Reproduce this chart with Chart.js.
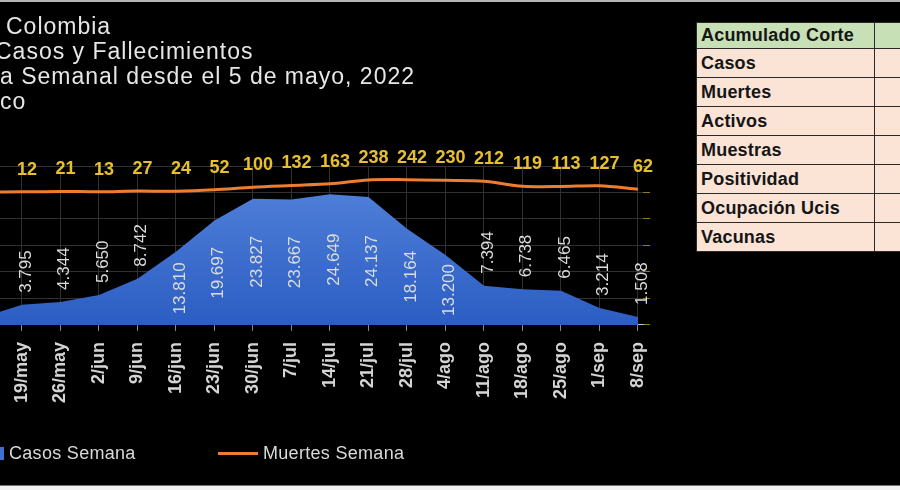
<!DOCTYPE html>
<html>
<head>
<meta charset="utf-8">
<script src="https://cdn.jsdelivr.net/npm/chart.js@4.4.1/dist/chart.umd.min.js"></script>
<style>
  html, body { margin: 0; padding: 0; background: #000; }
  #wrap { position: relative; width: 900px; height: 490px; overflow: hidden; background: #000;
          font-family: "Liberation Sans", Arial, sans-serif; }
  #chart { position: absolute; left: 0; top: 0; }
  .titulo { position: absolute; color: #e6e6e6; font-size: 23px; letter-spacing: 1px; white-space: nowrap; line-height: 25px; }
  #leyenda { position: absolute; left: -8px; top: 443px; display: flex; color: #d9d9d9; font-size: 18px; letter-spacing: 0.3px; }
  #leyenda .item { display: flex; align-items: center; }
  #leyenda .item:first-child { width: 226px; }
  #leyenda .muestra { margin-right: 5px; }
  #tabla { position: absolute; left: 696px; top: 22px; border-collapse: collapse; table-layout: fixed; width: 230px; }
  #tabla td { border: 1.5px solid #2a2a2a; background: #fbe3d5; color: #151515; font-weight: bold;
              font-size: 18px; letter-spacing: 0.2px; padding: 0 4px; height: 28px; white-space: nowrap; }
  #tabla tr:first-child td { background: #c7e0b5; height: 25px; }
  #tabla td:first-child { width: 169px; }
  #tabla td:last-child { width: 45px; }
  .marco-sup { position: absolute; left: 0; top: 0; width: 900px; height: 2px; background: #b5b5b5; }
  .marco-inf { position: absolute; left: 0; top: 485px; width: 900px; height: 5px; background: #f2f2f2; border-top: 1px solid #777; }
</style>
</head>
<body>
<div id="wrap">
  <canvas id="chart" width="690" height="490"></canvas>
  <div class="titulo" style="left:6px; top:14px;">Colombia</div>
  <div class="titulo" style="left:-5px; top:39px;">Casos y Fallecimientos</div>
  <div class="titulo" style="left:0px; top:64px;">a Semanal desde el 5 de mayo, 2022</div>
  <div class="titulo" style="left:0px; top:89px;">co</div>
  <div id="leyenda"></div>
  <table id="tabla"></table>
  <div class="marco-sup"></div>
  <div class="marco-inf"></div>
</div>
<script>
// semanas (la primera queda fuera del recorte de la imagen)
const semanas = ['12/may', '19/may', '26/may', '2/jun', '9/jun', '16/jun', '23/jun', '30/jun', '7/jul',
                 '14/jul', '21/jul', '28/jul', '4/ago', '11/ago', '18/ago', '25/ago', '1/sep', '8/sep'];
const casosSemana = [1500, 3795, 4344, 5650, 8742, 13810, 19697, 23827, 23667,
                     24649, 24137, 18164, 13200, 7394, 6738, 6465, 3214, 1508];
const muertesSemana = [10, 12, 21, 13, 27, 24, 52, 100, 132,
                       163, 238, 242, 230, 212, 119, 113, 127, 62];
const filasTabla = ['Acumulado Corte', 'Casos', 'Muertes', 'Activos', 'Muestras', 'Positividad', 'Ocupación Ucis', 'Vacunas'];

const fuente = '"Liberation Sans", Arial, sans-serif';

function miles(v) {
    return String(v).replace(/\B(?=(\d{3})+(?!\d))/g, '.');
}

// etiquetas de datos (muertes arriba, casos rotados)
const etiquetas = {
    id: 'etiquetas',
    afterDatasetsDraw(chart) {
        const { ctx, chartArea } = chart;
        ctx.save();
        ctx.textAlign = 'center';
        ctx.textBaseline = 'middle';

        ctx.font = 'bold 18px ' + fuente;
        ctx.fillStyle = '#e8c02e';
        chart.getDatasetMeta(1).data.forEach((pt, i) => {
            if (pt.x < chartArea.left || pt.x > chartArea.right) return;
            ctx.fillText(String(muertesSemana[i]), pt.x + 5, pt.y - 22);
        });

        ctx.font = '17px ' + fuente;
        ctx.fillStyle = '#dcdcdc';
        chart.getDatasetMeta(0).data.forEach((pt, i) => {
            if (pt.x < chartArea.left || pt.x > chartArea.right) return;
            const txt = miles(casosSemana[i]);
            const mitad = ctx.measureText(txt).width / 2;
            const alto = chartArea.bottom - pt.y;
            const cy = alto > 60 ? (pt.y + chartArea.bottom) / 2 : pt.y - 12 - mitad;
            ctx.save();
            ctx.translate(pt.x + 4, cy);
            ctx.rotate(-Math.PI / 2);
            ctx.fillText(txt, 0, 0);
            ctx.restore();
        });
        ctx.restore();
    }
};

const chart = new Chart(document.getElementById('chart'), {
    type: 'line',
    data: {
        datasets: [{
            label: 'Casos Semana',
            data: casosSemana.map((v, i) => ({ x: i, y: v })),
            yAxisID: 'y',
            fill: 'origin',
            borderWidth: 0,
            pointRadius: 0,
            tension: 0,
            swatch: 'square',
            borderColor: '#3f70d2',
            backgroundColor: (c) => {
                const area = c.chart.chartArea;
                if (!area) return '#3f70d2';
                const g = c.chart.ctx.createLinearGradient(0, area.top, 0, area.bottom);
                g.addColorStop(0, '#5585dc');
                g.addColorStop(1, '#2b5dc3');
                return g;
            },
            order: 2
        }, {
            label: 'Muertes Semana',
            data: muertesSemana.map((v, i) => ({ x: i, y: v })),
            yAxisID: 'y1',
            borderColor: '#ed7d31',
            backgroundColor: '#ed7d31',
            borderWidth: 3,
            pointRadius: 0,
            tension: 0.3,
            swatch: 'line',
            order: 1
        }]
    },
    options: {
        responsive: false,
        animation: false,
        layout: { padding: { top: 166, right: 40, bottom: 76, left: 0 } },
        plugins: { legend: { display: false }, tooltip: { enabled: false }, title: { display: false } },
        scales: {
            x: {
                type: 'linear',
                min: 0.43,
                max: 17.13,
                // una marca por semana, solo las que caen dentro del eje
                afterBuildTicks: axis => {
                    axis.ticks = semanas.map((s, i) => ({ value: i }))
                        .filter(t => t.value >= axis.min && t.value <= axis.max);
                },
                ticks: {
                    autoSkip: false,
                    maxRotation: 90,
                    minRotation: 90,
                    padding: 11,
                    color: '#d4d4d4',
                    font: { family: fuente, size: 18, weight: 'bold' },
                    callback: v => semanas[v]
                },
                grid: { color: '#303030', tickColor: '#8a8a8a', tickLength: 6 },
                border: { display: true, color: '#c6c6c6', width: 1 }
            },
            y: {
                min: 0,
                max: 30000,
                ticks: { display: false, stepSize: 5000 },
                grid: { color: '#303030', drawTicks: false },
                border: { display: false }
            },
            y1: {
                position: 'right',
                min: -2500,
                max: 500,
                ticks: { display: false, stepSize: 500 },
                grid: { drawOnChartArea: false, drawTicks: true, tickLength: 7, tickColor: '#8f7d1c' },
                border: { display: false }
            }
        }
    },
    plugins: [etiquetas]
});

// leyenda en HTML a partir de los datasets
const leyenda = document.getElementById('leyenda');
chart.data.datasets.forEach(ds => {
    const item = document.createElement('div');
    item.className = 'item';
    const m = document.createElement('span');
    m.className = 'muestra';
    if (ds.swatch === 'square') {
        m.style.cssText = 'display:inline-block;width:12px;height:13px;background:' + ds.borderColor;
    } else {
        m.style.cssText = 'display:inline-block;width:40px;height:3px;background:' + ds.borderColor;
    }
    item.appendChild(m);
    item.appendChild(document.createTextNode(ds.label));
    leyenda.appendChild(item);
});

// tabla de acumulados
const tabla = document.getElementById('tabla');
filasTabla.forEach(f => {
    const tr = document.createElement('tr');
    tr.innerHTML = '<td>' + f + '</td><td></td>';
    tabla.appendChild(tr);
});
</script>
</body>
</html>
